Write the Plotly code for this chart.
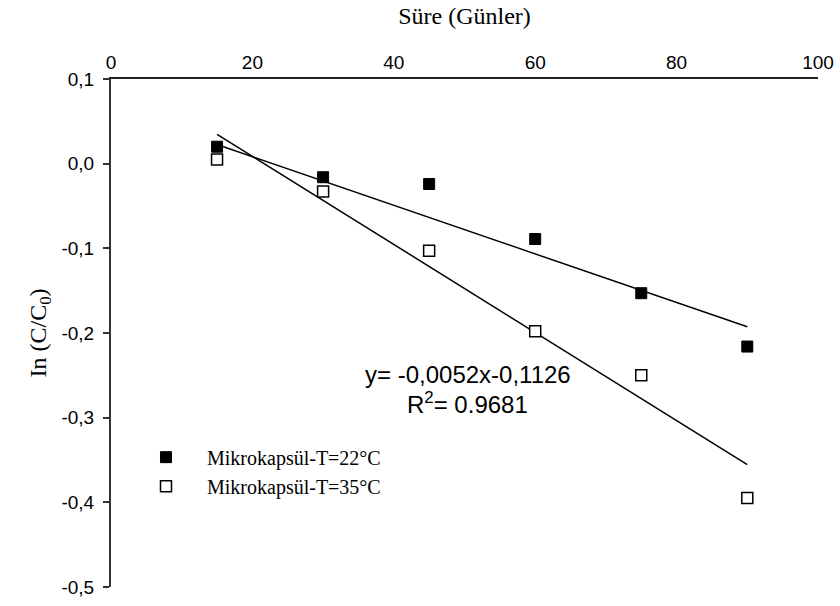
import plotly.graph_objects as go

# ---- data ----
days = [15, 30, 45, 60, 75, 90]
ln_22 = [0.020, -0.016, -0.024, -0.089, -0.153, -0.216]
ln_35 = [0.005, -0.033, -0.103, -0.198, -0.250, -0.395]
fit_22 = (-0.00287, 0.0656)   # slope, intercept of trend line, T=22°C
fit_35 = (-0.0052, 0.1126)    # slope, intercept of trend line, T=35°C
fit_x = [15, 90]
name_22 = "Mikrokapsül-T=22°C"
name_35 = "Mikrokapsül-T=35°C"
x_ticks = [0, 20, 40, 60, 80, 100]
y_ticks = [0.1, 0.0, -0.1, -0.2, -0.3, -0.4, -0.5]
y_ticktext = ["0,1", "0,0", "-0,1", "-0,2", "-0,3", "-0,4", "-0,5"]
eq_text = "y= -0,0052x-0,1126"
r2_text = "R<sup>2</sup>= 0.9681"

serif = "Liberation Serif, Times New Roman, serif"
sans = "Liberation Sans, Arial, sans-serif"

fig = go.Figure()
for (m, b) in (fit_22, fit_35):
    fig.add_trace(go.Scatter(
        x=fit_x, y=[m * v + b for v in fit_x], mode="lines",
        line=dict(color="black", width=1.5), showlegend=False, hoverinfo="skip"))

fig.add_trace(go.Scatter(
    x=days, y=ln_22, mode="markers", name=name_22,
    marker=dict(symbol="square", size=11, color="black",
                line=dict(color="black", width=1))))
fig.add_trace(go.Scatter(
    x=days, y=ln_35, mode="markers", name=name_35,
    marker=dict(symbol="square", size=11, color="white",
                line=dict(color="black", width=1.5))))

fig.add_annotation(x=50.5, y=-0.2495, xref="x", yref="y", text=eq_text,
                   showarrow=False, font=dict(family=sans, size=24, color="black"))
fig.add_annotation(x=50.4, y=-0.2825, xref="x", yref="y", text=r2_text,
                   showarrow=False, font=dict(family=sans, size=24, color="black"))

fig.update_layout(
    width=840, height=606,
    margin=dict(l=111, r=22, t=79, b=19, autoexpand=False),
    paper_bgcolor="white", plot_bgcolor="white",
    showlegend=True,
    legend=dict(x=0.0198, y=0.294, xanchor="left", yanchor="top",
                font=dict(family=serif, size=20, color="black"),
                itemwidth=72, bgcolor="rgba(0,0,0,0)", tracegroupgap=0),
    xaxis=dict(range=[0, 100], side="top", tickvals=x_ticks,
               ticks="", showgrid=False, zeroline=False, automargin=False,
               showline=True, linecolor="#222", linewidth=1.5,
               ticklabelstandoff=1,
               tickfont=dict(family=sans, size=19, color="black"),
               title=dict(text="Süre (Günler)",
                          font=dict(family=serif, size=24, color="black"),
                          standoff=20)),
    yaxis=dict(range=[-0.5, 0.1], tickvals=y_ticks, ticktext=y_ticktext,
               ticks="outside", ticklen=6, tickcolor="#333", tickwidth=1.5,
               showgrid=False, zeroline=False, automargin=False,
               showline=True, linecolor="#333", linewidth=2,
               ticklabelstandoff=5,
               tickfont=dict(family=sans, size=19, color="black"),
               title=dict(text="In (C/C<sub>0</sub>)",
                          font=dict(family=serif, size=24, color="black"),
                          standoff=8)),
)

fig.write_html("out.html")
